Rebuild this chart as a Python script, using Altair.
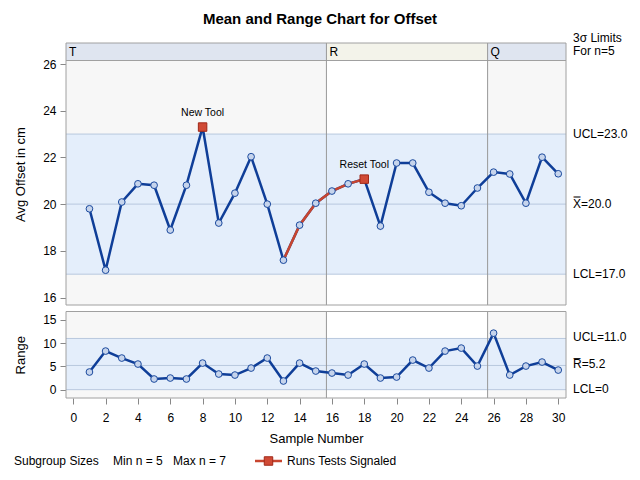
import altair as alt
import pandas as pd

# ---------------- data ----------------
samples = list(range(1, 31))
means = [19.80, 17.17, 20.09, 20.87, 20.81, 18.89, 20.81, 23.30, 19.19, 20.47,
         22.03, 20.00, 17.60, 19.10, 20.04, 20.56, 20.87, 21.07, 19.06, 21.76,
         21.76, 20.51, 20.04, 19.93, 20.69, 21.37, 21.29, 20.04, 22.01, 21.30]
ranges = [3.79, 8.29, 6.79, 5.50, 2.29, 2.50, 2.29, 5.71, 3.36, 3.14,
          4.64, 6.79, 1.86, 5.71, 4.00, 3.57, 3.14, 5.50, 2.50, 2.71,
          6.36, 4.64, 8.29, 8.93, 5.07, 12.14, 3.14, 5.07, 5.93, 4.21]
phase_names = ["T", "R", "Q"]
phase_edges = [15.66, 25.63]
signaled = [8, 18]
runs_segment = [13, 14, 15, 16, 17, 18]
note_samples = [8, 18]
note_texts = ["New Tool", "Reset Tool"]
mean_limit_values = [23.0, 20.0, 17.0]
mean_limit_labels = ["UCL=23.0", "X\u033F=20.0", "LCL=17.0"]
range_limit_values = [11.0, 5.2, 0.0]
range_limit_labels = ["UCL=11.0", "R\u0305=5.2", "LCL=0"]
x_ticks = list(range(0, 31, 2))
mean_ticks = [16, 18, 20, 22, 24, 26]
range_ticks = [0, 5, 10, 15]

XDOM = [-0.45, 30.48]
MDOM = [15.68, 26.90]
HEADER_LO = 26.15
RDOM = [-1.79, 16.79]

# ---------------- layout / style ----------------
FONT = "Liberation Sans"
W, H = 500, 355
TOP_H = 262
BOT_TOP = 268.5
BLUE = "#0f3e98"
RED = "#c8452f"
FRAME = "#a0a0a0"
LIMIT = "#b8c8de"
BAND = "#e4eefb"

xs = alt.Scale(domain=XDOM, nice=False, zero=False)
yT = alt.Scale(domain=MDOM, range=[TOP_H, 0], nice=False, zero=False)
yR = alt.Scale(domain=RDOM, range=[H, BOT_TOP], nice=False, zero=False)

x_axis = alt.Axis(values=x_ticks, title="Sample Number", orient="bottom",
                  domain=False, grid=False, tickSize=6, tickColor="#888888",
                  labelPadding=8, titlePadding=9, labelFontSize=12, titleFontSize=13)
yT_axis = alt.Axis(values=mean_ticks, title="Avg Offset in cm", orient="left",
                   domain=False, grid=False, tickSize=6, tickColor="#888888",
                   labelPadding=4, titlePadding=15, labelFontSize=12, titleFontSize=13)
yR_axis = alt.Axis(values=range_ticks, title="Range", orient="left",
                   domain=False, grid=False, tickSize=6, tickColor="#888888",
                   labelPadding=4, titlePadding=15, labelFontSize=12, titleFontSize=13)


def X(f, axis=None):
    return alt.X(f"{f}:Q", scale=xs, axis=axis)


def YT(f, axis=None):
    return alt.Y(f"{f}:Q", scale=yT, axis=axis)


def YR(f, axis=None):
    return alt.Y(f"{f}:Q", scale=yR, axis=axis)


df = pd.DataFrame({"sample": samples, "mean": means, "range": ranges})
df_runs = df[df["sample"].isin(runs_segment)]
df_sig = df[df["sample"].isin(signaled)]
df_notes = pd.DataFrame({"sample": note_samples,
                         "mean": [means[s - 1] for s in note_samples],
                         "label": note_texts})

starts = [XDOM[0]] + phase_edges
ends = phase_edges + [XDOM[1]]
ph = pd.DataFrame({"start": starts, "end": ends, "name": phase_names,
                   "bg": ["#f7f7f7", "#ffffff", "#f7f7f7"],
                   "hdr": ["#dfe5f0", "#f3f3ea", "#dfe5f0"],
                   "tlo": MDOM[0], "thi": HEADER_LO, "hlo": HEADER_LO, "hhi": MDOM[1],
                   "hmid": (HEADER_LO + MDOM[1]) / 2,
                   "rlo": RDOM[0], "rhi": RDOM[1]})
edges = pd.DataFrame({"x": phase_edges, "tlo": MDOM[0], "thi": MDOM[1],
                      "rlo": RDOM[0], "rhi": RDOM[1]})
frame = pd.DataFrame({"x": [XDOM[0]], "x2": [XDOM[1]],
                      "tlo": [MDOM[0]], "thi": [MDOM[1]],
                      "rlo": [RDOM[0]], "rhi": [RDOM[1]],
                      "mlcl": [mean_limit_values[2]], "mucl": [mean_limit_values[0]],
                      "rlcl": [range_limit_values[2]], "rucl": [range_limit_values[0]],
                      "hdr": [HEADER_LO]})
mlim = pd.DataFrame({"v": mean_limit_values, "label": mean_limit_labels,
                     "x": XDOM[0], "x2": XDOM[1]})
rlim = pd.DataFrame({"v": range_limit_values, "label": range_limit_labels,
                     "x": XDOM[0], "x2": XDOM[1]})

# ---------------- top (mean) chart ----------------
t_bg = alt.Chart(ph).mark_rect().encode(
    x=X("start", x_axis), x2="end", y=YT("tlo", yT_axis), y2="thi",
    color=alt.Color("bg:N", scale=None))
t_hdr = alt.Chart(ph).mark_rect().encode(
    x=X("start"), x2="end", y=YT("hlo"), y2="hhi", color=alt.Color("hdr:N", scale=None))
t_band = alt.Chart(frame).mark_rect(color=BAND).encode(
    x=X("x"), x2="x2", y=YT("mlcl"), y2="mucl")
t_lim = alt.Chart(mlim).mark_rule(color=LIMIT, strokeWidth=1).encode(
    x=X("x"), x2="x2", y=YT("v"))
t_hline = alt.Chart(frame).mark_rule(color=FRAME, strokeWidth=1).encode(
    x=X("x"), x2="x2", y=YT("hdr"))
t_sep = alt.Chart(edges).mark_rule(color="#999999", strokeWidth=1).encode(
    x=X("x"), y=YT("tlo"), y2="thi")
t_frame = alt.Chart(frame).mark_rect(fillOpacity=0, stroke=FRAME, strokeWidth=1).encode(
    x=X("x"), x2="x2", y=YT("tlo"), y2="thi")
t_line = alt.Chart(df).mark_line(color=BLUE, strokeWidth=2.5).encode(
    x=X("sample"), y=YT("mean"))
t_red = alt.Chart(df_runs).mark_line(color=RED, strokeWidth=2.5).encode(
    x=X("sample"), y=YT("mean"))
t_pts = alt.Chart(df).mark_point(shape="circle", filled=True, fill="#c6d4ec",
                                 stroke="#1b4a9e", strokeWidth=1, size=45, opacity=1).encode(
    x=X("sample"), y=YT("mean"))
t_sig = alt.Chart(df_sig).mark_square(size=72, fill="#d04a35", stroke="#a02818",
                                      strokeWidth=1, opacity=1).encode(
    x=X("sample"), y=YT("mean"))
t_notes = alt.Chart(df_notes).mark_text(dy=-14, fontSize=10.5, font=FONT, color="black").encode(
    x=X("sample"), y=YT("mean"), text="label:N")
t_plab = alt.Chart(ph).mark_text(align="left", baseline="middle", dx=3, fontSize=12,
                                 font=FONT, color="black").encode(
    x=X("start"), y=YT("hmid"), text="name:N")
t_rlab = alt.Chart(mlim).mark_text(align="left", baseline="middle", fontSize=12,
                                   font=FONT, color="black").encode(
    x=alt.value(W + 7), y=YT("v"), text="label:N")

# ---------------- bottom (range) chart ----------------
b_bg = alt.Chart(ph).mark_rect().encode(
    x=X("start"), x2="end", y=YR("rlo", yR_axis), y2="rhi",
    color=alt.Color("bg:N", scale=None))
b_band = alt.Chart(frame).mark_rect(color=BAND).encode(
    x=X("x"), x2="x2", y=YR("rlcl"), y2="rucl")
b_lim = alt.Chart(rlim).mark_rule(color=LIMIT, strokeWidth=1).encode(
    x=X("x"), x2="x2", y=YR("v"))
b_sep = alt.Chart(edges).mark_rule(color="#999999", strokeWidth=1).encode(
    x=X("x"), y=YR("rlo"), y2="rhi")
b_frame = alt.Chart(frame).mark_rect(fillOpacity=0, stroke=FRAME, strokeWidth=1).encode(
    x=X("x"), x2="x2", y=YR("rlo"), y2="rhi")
b_line = alt.Chart(df).mark_line(color=BLUE, strokeWidth=2.5).encode(
    x=X("sample"), y=YR("range"))
b_pts = alt.Chart(df).mark_point(shape="circle", filled=True, fill="#c6d4ec",
                                 stroke="#1b4a9e", strokeWidth=1, size=45, opacity=1).encode(
    x=X("sample"), y=YR("range"))
b_rlab = alt.Chart(rlim).mark_text(align="left", baseline="middle", fontSize=12,
                                   font=FONT, color="black", dy=-1).encode(
    x=alt.value(W + 7), y=YR("v"), text="label:N")

# ---------------- title, limits note & legend row ----------------
one = pd.DataFrame({"a": [0]})


def free_text(txt, xp, yp, **kw):
    return alt.Chart(one).mark_text(font=FONT, color="black", **kw).encode(
        x=alt.value(xp), y=alt.value(yp), text=alt.value(txt))


title = free_text("Mean and Range Chart for Offset", 254, -19,
                  fontSize=15, fontWeight="bold", baseline="alphabetic")
note_a = free_text("3\u03c3 Limits", W + 7, -5, align="left", baseline="middle", fontSize=12)
note_b = free_text("For n=5", W + 7, 8, align="left", baseline="middle", fontSize=12)

legend_items = []
for txt, xp in [("Subgroup Sizes", -52), ("Min n = 5", 47), ("Max n = 7", 107),
                ("Runs Tests Signaled", 221)]:
    legend_items.append(free_text(txt, xp, 418, align="left", baseline="middle", fontSize=12))
leg_line = alt.Chart(one).mark_rule(color=RED, strokeWidth=2.5).encode(
    x=alt.value(189), x2=alt.value(216), y=alt.value(418))
leg_sq = alt.Chart(one).mark_square(size=72, fill="#d04a35", stroke="#a02818",
                                    strokeWidth=1, opacity=1).encode(
    x=alt.value(202.5), y=alt.value(418))

chart = alt.layer(
    t_bg, t_hdr, t_band, t_lim, t_hline, t_sep, t_frame,
    t_line, t_red, t_pts, t_sig, t_notes, t_plab, t_rlab,
    b_bg, b_band, b_lim, b_sep, b_frame, b_line, b_pts, b_rlab,
    title, note_a, note_b, leg_line, leg_sq, *legend_items
).resolve_scale(
    x="independent", y="independent"
).properties(
    width=W, height=H,
    padding={"left": 58, "top": 35, "right": 66, "bottom": 74},
    autosize=alt.AutoSizeParams(type="none"),
).configure_view(strokeWidth=0).configure_axis(
    labelFont=FONT, titleFont=FONT, labelColor="black", titleColor="black",
    titleFontWeight="normal"
).configure_text(font=FONT)

chart.save("out.html", embed_options={"renderer": "svg", "actions": False})
